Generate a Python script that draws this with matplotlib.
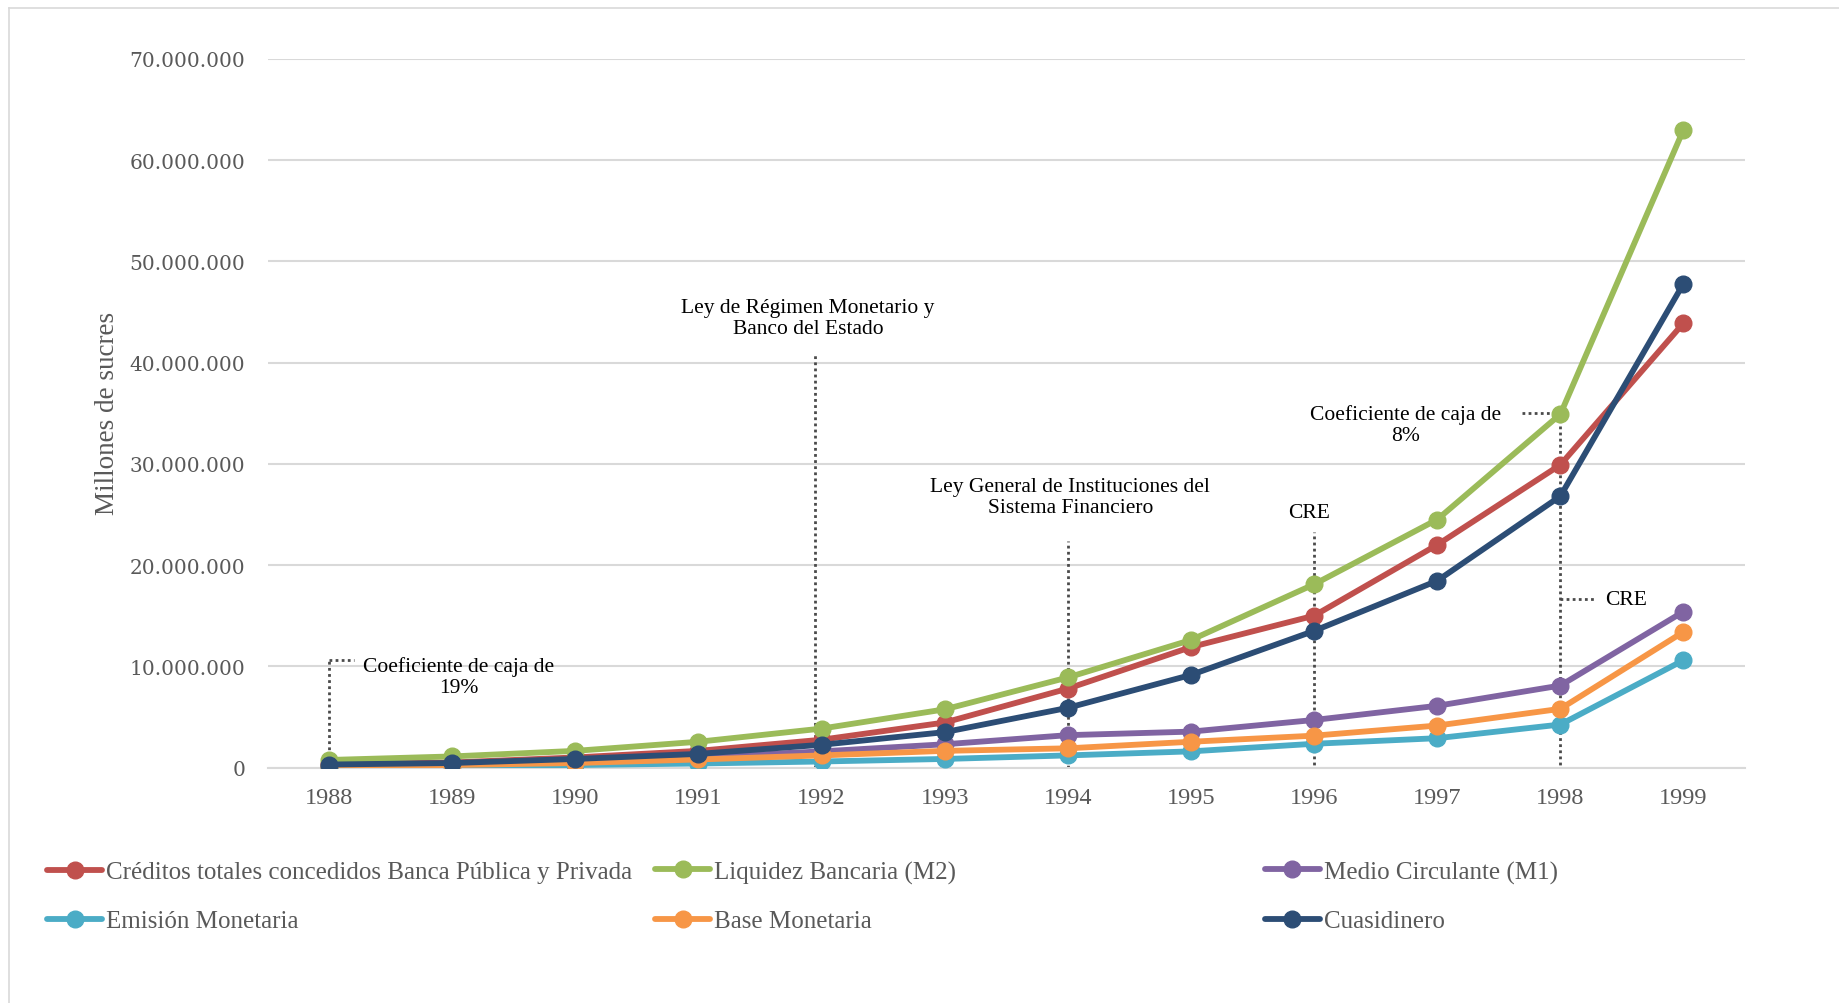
import matplotlib
matplotlib.use("Agg")
import matplotlib.pyplot as plt
from matplotlib.lines import Line2D

# ---- data (millones de sucres) ----
years = [1988, 1989, 1990, 1991, 1992, 1993, 1994, 1995, 1996, 1997, 1998, 1999]

creditos = [0.35e6, 0.5e6, 1.0e6, 1.65e6, 2.75e6, 4.45e6, 7.8e6, 11.9e6, 15.0e6, 22.0e6, 29.9e6, 43.9e6]
liquidez_m2 = [0.75e6, 1.1e6, 1.65e6, 2.55e6, 3.85e6, 5.75e6, 8.9e6, 12.6e6, 18.1e6, 24.5e6, 34.9e6, 63.0e6]
medio_m1 = [0.2e6, 0.35e6, 0.6e6, 1.0e6, 1.6e6, 2.3e6, 3.2e6, 3.55e6, 4.7e6, 6.1e6, 8.1e6, 15.4e6]
emision = [0.1e6, 0.15e6, 0.25e6, 0.4e6, 0.6e6, 0.85e6, 1.2e6, 1.6e6, 2.35e6, 2.9e6, 4.25e6, 10.6e6]
base = [0.15e6, 0.25e6, 0.45e6, 0.8e6, 1.2e6, 1.65e6, 1.9e6, 2.55e6, 3.15e6, 4.15e6, 5.8e6, 13.4e6]
cuasidinero = [0.3e6, 0.45e6, 0.85e6, 1.35e6, 2.25e6, 3.5e6, 5.9e6, 9.15e6, 13.5e6, 18.45e6, 26.8e6, 47.8e6]

series_names = [
    "Créditos totales concedidos Banca Pública y Privada",
    "Liquidez Bancaria (M2)",
    "Medio Circulante (M1)",
    "Emisión Monetaria",
    "Base Monetaria",
    "Cuasidinero",
]
series_values = [creditos, liquidez_m2, medio_m1, emision, base, cuasidinero]
series_colors = ["#C0504D", "#9BBB59", "#8064A2", "#4BACC6", "#F79646", "#2C4D75"]

y_ticks = [0, 10e6, 20e6, 30e6, 40e6, 50e6, 60e6, 70e6]

SERIF = ["Liberation Serif", "DejaVu Serif"]
GREY = "#595959"
DOT = "#4A4A4A"

fig = plt.figure(figsize=(18.4, 10.04), dpi=100)
ax = fig.add_axes([0.1454, 0.2345, 0.9484 - 0.1454, 0.9404 - 0.2345])

handles = []
for name, vals, col in zip(series_names, series_values, series_colors):
    h, = ax.plot(years, vals, color=col, lw=4.2, marker="o", ms=12,
                 solid_capstyle="round", label=name, zorder=3)
    handles.append(h)

ax.set_xlim(1987.5, 1999.5)
ax.set_ylim(0, 70e6)
ax.set_xticks(years)
ax.set_xticklabels([str(y) for y in years], family=SERIF, fontsize=17.5, color=GREY)
ax.set_yticks(y_ticks)
ax.set_yticklabels([f"{v:,.0f}".replace(",", ".") for v in y_ticks],
                   family="DejaVu Serif", fontsize=14.5, color=GREY)
ax.tick_params(axis="both", length=0)
ax.tick_params(axis="y", pad=16)
ax.tick_params(axis="x", pad=14)
ax.grid(axis="y", color="#D9D9D9", lw=1.5, zorder=0)
for s in ["top", "right", "left"]:
    ax.spines[s].set_visible(False)
ax.spines["bottom"].set_color("#D9D9D9")
ax.spines["bottom"].set_linewidth(1.5)

# ---- annotations ----
dot_kw = dict(color=DOT, lw=2, ls=(0, (1, 1.2)), zorder=2)
txt_kw = dict(family=SERIF, fontsize=15.5, color="black", ha="center", va="center",
              linespacing=1.15)

# Coeficiente de caja 19% (1988)
ax.plot([1988, 1988], [0, 10.66e6], **dot_kw)
ax.plot([1988, 1988.2], [10.66e6, 10.66e6], **dot_kw)
ax.text(1989.05, 9.0e6, "Coeficiente de caja de\n19%", **txt_kw)

# Ley de Régimen Monetario (1992)
ax.plot([1991.95, 1991.95], [0, 40.9e6], **dot_kw)
ax.text(1991.89, 44.4e6, "Ley de Régimen Monetario y\nBanco del Estado", **txt_kw)

# Ley General de Instituciones (1994)
ax.plot([1994, 1994], [0, 22.4e6], **dot_kw)
ax.text(1994.02, 26.7e6, "Ley General de Instituciones del\nSistema Financiero", **txt_kw)

# CRE (1996)
ax.plot([1996, 1996], [-0.3e6, 23.3e6], **dot_kw)
ax.text(1995.96, 25.15e6, "CRE", **txt_kw)

# Coeficiente de caja 8% and CRE (1998)
ax.plot([1998, 1998], [-0.3e6, 35.0e6], **dot_kw)
ax.plot([1997.69, 1998], [35.0e6, 35.0e6], **dot_kw)
ax.text(1996.74, 33.9e6, "Coeficiente de caja de\n8%", **txt_kw)
ax.plot([1998, 1998.29], [16.6e6, 16.6e6], **dot_kw)
ax.text(1998.36, 16.6e6, "CRE", family=SERIF, fontsize=15.5, color="black",
        ha="left", va="center")

# ---- y label ----
fig.text(108 / 1840, 1 - 413 / 1004, "Millones de sucres", rotation=90,
         family=SERIF, fontsize=19.5, color=GREY, ha="center", va="center")

# ---- legend (fixed grid of 3 columns x 2 rows) ----
col_x = [47 / 1840, 655 / 1840, 1265 / 1840]
row_y = [1 - 873 / 1004, 1 - 922 / 1004]
for i, h in enumerate(handles):
    r, c = divmod(i, 3)
    leg = fig.legend([h], [h.get_label()], loc="center left",
                     bbox_to_anchor=(col_x[c], row_y[r]), frameon=False,
                     borderpad=0, borderaxespad=0, handlelength=2.2,
                     handletextpad=0.15, prop={"family": SERIF, "size": 18})
    for t in leg.get_texts():
        t.set_color(GREY)

# ---- outer frame ----
fig.add_artist(Line2D([9.4 / 1840, 9.4 / 1840], [0, 1 - 9.4 / 1004],
                      transform=fig.transFigure, color="#D9D9D9", lw=1.2))
fig.add_artist(Line2D([9.4 / 1840, 1], [1 - 9.4 / 1004, 1 - 9.4 / 1004],
                      transform=fig.transFigure, color="#D9D9D9", lw=1.2))

fig.savefig("out.png", dpi=100, facecolor="white")
